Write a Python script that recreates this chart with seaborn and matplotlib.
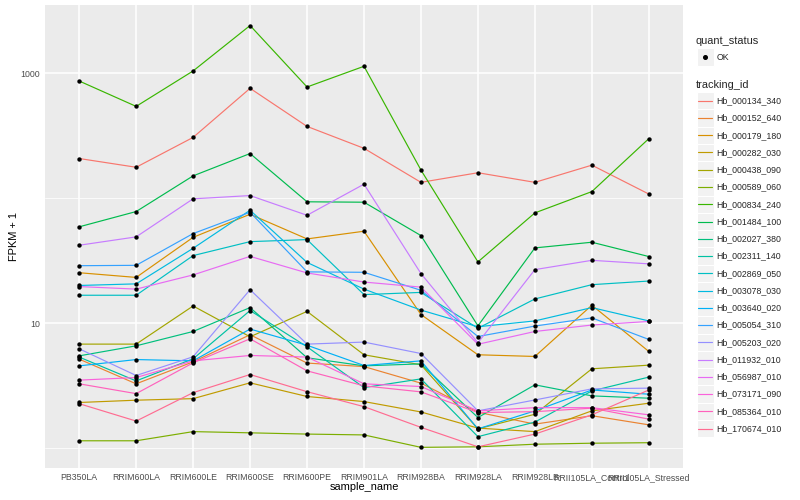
import pandas as pd
import seaborn as sns
import numpy as np
from matplotlib import pyplot as plt
from matplotlib.patches import Rectangle
from matplotlib.lines import Line2D
from matplotlib.ticker import FixedLocator, NullFormatter

sns.set_style('darkgrid', {'axes.facecolor': '#EBEBEB', 'grid.color': 'white'})
plt.rcParams['font.family'] = ['Liberation Sans', 'DejaVu Sans']

samples = ['PB350LA', 'RRIM600LA', 'RRIM600LE', 'RRIM600SE', 'RRIM600PE', 'RRIM901LA',
           'RRIM928BA', 'RRIM928LA', 'RRIM928LB', 'RRII105LA_Control', 'RRII105LA_Stressed']

tracking_ids = ['Hb_000134_340', 'Hb_000152_640', 'Hb_000179_180', 'Hb_000282_030', 'Hb_000438_090',
                'Hb_000589_060', 'Hb_000834_240', 'Hb_001484_100', 'Hb_002027_380', 'Hb_002311_140',
                'Hb_002869_050', 'Hb_003078_030', 'Hb_003640_020', 'Hb_005054_310', 'Hb_005203_020',
                'Hb_011932_010', 'Hb_056987_010', 'Hb_073171_090', 'Hb_085364_010', 'Hb_170674_010']

# FPKM + 1 per gene, one value per sample
hb_000134_340 = [208, 177, 307, 759, 376, 251, 134, 160, 134, 184, 108]
hb_000152_640 = [5.14, 3.26, 4.89, 8.06, 4.78, 4.48, 3.30, 1.93, 1.55, 1.81, 1.53]
hb_000179_180 = [25.3, 23.2, 48.6, 74.4, 47.2, 54.4, 11.7, 5.57, 5.40, 13.9, 5.92]
hb_000282_030 = [2.31, 2.41, 2.48, 3.32, 2.58, 2.35, 1.94, 1.44, 1.35, 1.98, 2.28]
hb_000438_090 = [6.78, 6.78, 13.7, 7.76, 12.4, 5.57, 4.63, 1.42, 1.86, 4.30, 4.60]
hb_000589_060 = [1.14, 1.14, 1.35, 1.32, 1.29, 1.27, 1.01, 1.02, 1.07, 1.09, 1.10]
hb_000834_240 = [869, 544, 1046, 2418, 778, 1140, 168, 30.9, 76.3, 113, 300]
hb_001484_100 = [59.0, 78.2, 151, 228, 93.6, 92.9, 50.2, 9.5, 40.0, 44.4, 34.1]
hb_002027_380 = [5.46, 6.57, 8.56, 13.3, 5.27, 4.54, 4.71, 1.75, 3.20, 2.61, 2.50]
hb_002311_140 = [5.34, 3.44, 5.17, 12.6, 6.45, 3.04, 3.57, 1.23, 1.61, 2.86, 3.69]
hb_002869_050 = [16.7, 16.7, 34.7, 44.9, 46.6, 16.9, 17.6, 9.08, 15.6, 20.3, 21.7]
hb_003078_030 = [20.0, 20.6, 39.7, 80.1, 30.6, 18.7, 12.7, 9.34, 10.4, 13.3, 10.4]
hb_003640_020 = [4.54, 5.10, 4.98, 8.95, 6.64, 4.57, 4.98, 1.42, 1.98, 2.91, 2.69]
hb_005054_310 = [28.8, 29.0, 52.1, 77.2, 25.7, 25.5, 18.3, 7.8, 9.46, 11.0, 7.39]
hb_005203_020 = [6.22, 3.80, 5.37, 18.5, 6.78, 7.04, 5.70, 1.98, 2.42, 2.97, 3.01]
hb_011932_010 = [42.0, 49.0, 98.9, 105, 73.0, 129.6, 24.9, 6.95, 26.8, 31.8, 29.8]
hb_056987_010 = [19.6, 18.7, 24.3, 34.2, 25.2, 21.3, 19.4, 6.76, 8.56, 9.64, 10.3]
hb_073171_090 = [3.49, 3.66, 4.98, 5.50, 5.34, 3.26, 3.10, 1.98, 2.10, 2.10, 1.84]
hb_085364_010 = [3.26, 2.72, 4.80, 7.48, 4.14, 3.14, 2.81, 1.92, 1.95, 2.08, 1.70]
hb_170674_010 = [2.26, 1.64, 2.77, 3.87, 2.82, 2.14, 1.46, 1.02, 1.29, 1.84, 2.91]

fpkm = [hb_000134_340, hb_000152_640, hb_000179_180, hb_000282_030, hb_000438_090,
        hb_000589_060, hb_000834_240, hb_001484_100, hb_002027_380, hb_002311_140,
        hb_002869_050, hb_003078_030, hb_003640_020, hb_005054_310, hb_005203_020,
        hb_011932_010, hb_056987_010, hb_073171_090, hb_085364_010, hb_170674_010]

# ggplot default hue palette for 20 levels
colors = ['#F8766D', '#EA8331', '#D89000', '#C09B00', '#A3A500', '#7CAE00', '#39B600',
          '#00BB4E', '#00BF7D', '#00C1A3', '#00BFC4', '#00BAE0', '#00B0F6', '#35A2FF',
          '#9590FF', '#C77CFF', '#E76BF3', '#FA62DB', '#FF62BC', '#FF6C91']

df = pd.DataFrame({'sample_name': samples * len(tracking_ids),
                   'tracking_id': np.repeat(tracking_ids, len(samples)),
                   'fpkm': np.concatenate(fpkm),
                   'quant_status': 'OK'})

W, H = 800, 500
fig = plt.figure(figsize=(8, 5), dpi=100)
ax = fig.add_axes([45 / W, 1 - 468 / H, 638 / W, 463 / H])

sns.lineplot(data=df, x='sample_name', y='fpkm', hue='tracking_id', hue_order=tracking_ids,
             palette=colors, linewidth=0.85, sort=False, estimator=None, legend=False, ax=ax)
sns.scatterplot(data=df, x='sample_name', y='fpkm', color='black', s=10, linewidth=0,
                legend=False, ax=ax, zorder=3)

ax.set_yscale('log')
ax.set_ylim(0.69, 3530)
ax.set_xlim(-0.6, len(samples) - 0.4)
ax.yaxis.set_major_locator(FixedLocator([10, 1000]))
ax.set_yticklabels(['10', '1000'])
ax.yaxis.set_minor_locator(FixedLocator([1, 100]))
ax.yaxis.set_minor_formatter(NullFormatter())
ax.grid(which='major', color='white', linewidth=1.1)
ax.grid(which='minor', axis='y', color='white', linewidth=0.55)
ax.tick_params(which='major', length=2, width=0.7, color='#333333', labelcolor='#4D4D4D',
               labelsize=6.3, pad=1.5)
ax.tick_params(which='minor', length=0)
for s in ax.spines.values():
    s.set_visible(False)

ax.set_xlabel('sample_name', fontsize=7.9, color='black')
ax.set_ylabel('FPKM + 1', fontsize=7.9, color='black')
ax.xaxis.set_label_coords(0.5, -0.031)
ax.yaxis.set_label_coords(-0.041, 0.5)


def fx(px):
    return px / W


def fy(py):
    return 1 - py / H


# legend: quant_status
fig.text(fx(696), fy(41), 'quant_status', fontsize=7.9, va='center', ha='left')
fig.patches.append(Rectangle((fx(696.5), fy(65.5)), 17 / W, 17 / H, transform=fig.transFigure,
                             facecolor='#F2F2F2', edgecolor='white', linewidth=0.8))
fig.lines.append(Line2D([fx(705)], [fy(57)], marker='o', markersize=2.6, color='black',
                        linestyle='none', transform=fig.transFigure))
fig.text(fx(716.5), fy(57), 'OK', fontsize=6.3, va='center', ha='left')

# legend: tracking_id
fig.text(fx(696), fy(84.5), 'tracking_id', fontsize=7.9, va='center', ha='left')
step = 17.26
for i, (tid, col) in enumerate(zip(tracking_ids, colors)):
    cy = 100.7 + i * step
    fig.patches.append(Rectangle((fx(696.5), fy(cy + step / 2)), 17 / W, step / H,
                                 transform=fig.transFigure, facecolor='#F2F2F2',
                                 edgecolor='white', linewidth=0.8))
    fig.lines.append(Line2D([fx(698.3), fx(711.7)], [fy(cy), fy(cy)], color=col, linewidth=0.85,
                            transform=fig.transFigure))
    fig.text(fx(716.5), fy(cy), tid, fontsize=6.3, va='center', ha='left')

fig.savefig('out.png', dpi=100)
